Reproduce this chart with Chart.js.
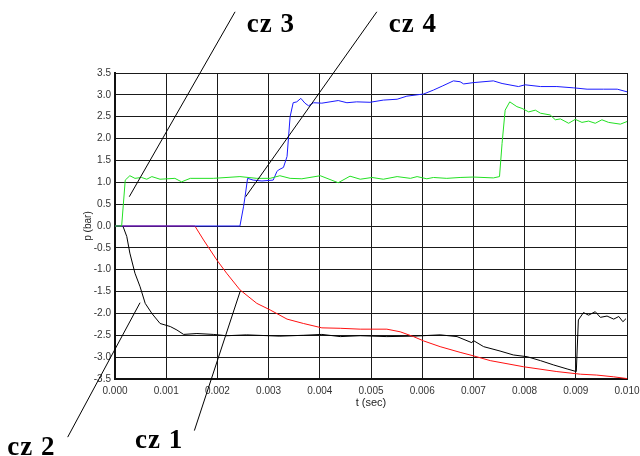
<!DOCTYPE html>
<html>
<head>
<meta charset="utf-8">
<script src="https://cdn.jsdelivr.net/npm/chart.js@4/dist/chart.umd.min.js"></script>
<style>
  html, body { margin: 0; padding: 0; background: #fff; }
  #wrap { width: 640px; height: 456px; }
</style>
</head>
<body>
<div id="wrap"><canvas id="c" width="640" height="456"></canvas></div>
<script>
// czujniki ciśnienia, t w sekundach, p w barach
const czas1 = [0, 0.00153, 0.00156, 0.00173, 0.00199, 0.00218, 0.00244, 0.00277, 0.00303, 0.00336, 0.00368, 0.00404, 0.00440, 0.00479, 0.00531, 0.00557, 0.00583, 0.00603, 0.00635, 0.00674, 0.00700, 0.00733, 0.00798, 0.00863, 0.00909, 0.00941, 0.00974, 0.01000]
const cz1 = [0, 0, 0, -0.32, -0.78, -1.08, -1.46, -1.77, -1.92, -2.13, -2.23, -2.33, -2.34, -2.36, -2.36, -2.42, -2.53, -2.63, -2.76, -2.89, -2.97, -3.08, -3.22, -3.33, -3.39, -3.41, -3.45, -3.49]

const czas2 = [0, 0.00013, 0.00016, 0.00023, 0.00029, 0.00039, 0.00049, 0.00059, 0.00072, 0.00088, 0.00108, 0.00121, 0.00134, 0.00160, 0.00192, 0.00218, 0.00257, 0.00322, 0.00368, 0.00404, 0.00440, 0.00479, 0.00531, 0.00583, 0.00635, 0.00668, 0.00697, 0.00700, 0.00720, 0.00752, 0.00778, 0.00805, 0.00831, 0.00857, 0.00883, 0.00901, 0.00905, 0.00915, 0.00925, 0.00938, 0.00948, 0.00961, 0.00974, 0.00984, 0.00992, 0.00998]
const cz2 = [0, 0, -0.02, -0.24, -0.62, -1.08, -1.39, -1.77, -2.00, -2.23, -2.30, -2.38, -2.48, -2.46, -2.48, -2.51, -2.49, -2.52, -2.50, -2.48, -2.53, -2.51, -2.53, -2.52, -2.49, -2.53, -2.67, -2.62, -2.76, -2.86, -2.95, -2.99, -3.08, -3.18, -3.27, -3.33, -2.15, -1.98, -2.04, -1.96, -2.09, -2.06, -2.13, -2.07, -2.19, -2.12]

const czas3 = [0, 0.00013, 0.00020, 0.00029, 0.00039, 0.00052, 0.00062, 0.00072, 0.00088, 0.00117, 0.00130, 0.00147, 0.00192, 0.00244, 0.00277, 0.00303, 0.00322, 0.00342, 0.00365, 0.00401, 0.00436, 0.00459, 0.00479, 0.00502, 0.00524, 0.00551, 0.00577, 0.00590, 0.00609, 0.00622, 0.00648, 0.00674, 0.00700, 0.00739, 0.00751, 0.00756, 0.00762, 0.00771, 0.00785, 0.00795, 0.00808, 0.00821, 0.00831, 0.00850, 0.00860, 0.00870, 0.00886, 0.00899, 0.00912, 0.00925, 0.00938, 0.00951, 0.00964, 0.00987, 0.01000]
const cz3 = [0, 0, 1.05, 1.15, 1.09, 1.11, 1.07, 1.13, 1.07, 1.09, 1.01, 1.09, 1.09, 1.13, 1.09, 1.09, 1.15, 1.09, 1.08, 1.15, 0.99, 1.14, 1.07, 1.11, 1.07, 1.13, 1.09, 1.13, 1.08, 1.11, 1.09, 1.11, 1.12, 1.10, 1.13, 1.89, 2.65, 2.84, 2.73, 2.69, 2.61, 2.65, 2.58, 2.54, 2.43, 2.45, 2.35, 2.44, 2.37, 2.40, 2.35, 2.43, 2.37, 2.33, 2.39]

const czas4 = [0, 0.00244, 0.00251, 0.00254, 0.00259, 0.00270, 0.00287, 0.00309, 0.00316, 0.00319, 0.00329, 0.00336, 0.00342, 0.00348, 0.00355, 0.00363, 0.00371, 0.00378, 0.00388, 0.00404, 0.00420, 0.00436, 0.00453, 0.00472, 0.00498, 0.00524, 0.00551, 0.00570, 0.00603, 0.00622, 0.00639, 0.00661, 0.00674, 0.00681, 0.00700, 0.00739, 0.00756, 0.00788, 0.00801, 0.00831, 0.00863, 0.00896, 0.00922, 0.00954, 0.00981, 0.01000]
const cz4 = [0, 0, 0.44, 0.67, 1.09, 1.05, 1.03, 1.05, 1.24, 1.28, 1.34, 1.59, 2.50, 2.82, 2.84, 2.92, 2.81, 2.75, 2.82, 2.81, 2.84, 2.87, 2.82, 2.84, 2.83, 2.88, 2.90, 2.97, 3.02, 3.11, 3.20, 3.32, 3.30, 3.25, 3.28, 3.32, 3.26, 3.19, 3.23, 3.19, 3.19, 3.16, 3.13, 3.13, 3.13, 3.07]

// opisy czujników: odcinek od krzywej do napisu (w jednostkach osi)
const opisy = ['cz 1', 'cz 2', 'cz 3', 'cz 4']
const opisOdT = [0.002443, 0.000489, 0.000279, 0.002552]
const opisOdP = [-1.50, -1.755, 0.67, 0.67]
const opisDoT = [0.00155, -0.000924, 0.002345, 0.005114]
const opisDoP = [-4.68, -4.83, 4.90, 4.90]
const napisT = [0.000393, -0.002105, 0.002573, 0.005348]
const napisP = [-5.08, -5.24, 4.44, 4.44]

const xTicks = [0, 0.001, 0.002, 0.003, 0.004, 0.005, 0.006, 0.007, 0.008, 0.009, 0.010]

function punkty(t, p){
    const out = []
    for(let i=0; i<t.length; i++){
        out.push({x: t[i], y: p[i]})
    }
    return out
}

const opisyPlugin = {
    id: 'opisy',
    afterDatasetsDraw(chart){
        const ctx = chart.ctx
        const xs = chart.scales.x
        const ys = chart.scales.y
        ctx.save()
        ctx.strokeStyle = '#000'
        ctx.lineWidth = 1
        for(let i=0; i<opisy.length; i++){
            ctx.beginPath()
            ctx.moveTo(xs.getPixelForValue(opisOdT[i]), ys.getPixelForValue(opisOdP[i]))
            ctx.lineTo(xs.getPixelForValue(opisDoT[i]), ys.getPixelForValue(opisDoP[i]))
            ctx.stroke()
        }
        ctx.fillStyle = '#000'
        ctx.font = 'bold 27px "Liberation Serif", "Times New Roman", serif'
        ctx.letterSpacing = '1px'
        ctx.textAlign = 'left'
        ctx.textBaseline = 'alphabetic'
        for(let i=0; i<opisy.length; i++){
            ctx.fillText(opisy[i], xs.getPixelForValue(napisT[i]), ys.getPixelForValue(napisP[i]))
        }
        ctx.restore()
    }
}

const linia = (label, data, color) => ({
    label: label,
    data: data,
    borderColor: color,
    borderWidth: 1,
    pointRadius: 0,
    tension: 0,
    fill: false
})

new Chart(document.getElementById('c'), {
    type: 'line',
    data: {
        datasets: [
            linia('cz 3', punkty(czas3, cz3), '#22e022'),
            linia('cz 4', punkty(czas4, cz4), '#1a1aff'),
            linia('cz 1', punkty(czas1, cz1), '#ff1010'),
            linia('cz 2', punkty(czas2, cz2), '#000000')
        ]
    },
    options: {
        responsive: false,
        animation: false,
        layout: { padding: { top: 73, right: 13, left: 80, bottom: 0 } },
        plugins: {
            legend: { display: false },
            tooltip: { enabled: false }
        },
        scales: {
            x: {
                type: 'linear',
                min: 0,
                max: 0.010,
                afterBuildTicks: s => { s.ticks = xTicks.map(v => ({value: v})) },
                afterFit: s => {
                    s.height = 77
                    s.paddingLeft = 0
                    s.paddingRight = 0
                },
                ticks: {
                    callback: v => Number(v).toFixed(3),
                    color: '#333',
                    font: { family: 'Arial, "Liberation Sans", sans-serif', size: 10 },
                    padding: 6,
                    maxRotation: 0
                },
                grid: { color: '#1a1a1a', lineWidth: 1, drawTicks: false },
                border: { color: '#111', width: 2 },
                title: {
                    display: true,
                    text: 't (sec)',
                    color: '#222',
                    font: { family: 'Arial, "Liberation Sans", sans-serif', size: 11 },
                    padding: { top: 0, bottom: 46 }
                }
            },
            y: {
                min: -3.5,
                max: 3.5,
                afterFit: s => {
                    s.width = 35
                    s.paddingTop = 0
                    s.paddingBottom = 0
                },
                ticks: {
                    stepSize: 0.5,
                    callback: v => Number(v).toFixed(1),
                    color: '#333',
                    font: { family: 'Arial, "Liberation Sans", sans-serif', size: 10 },
                    padding: 4
                },
                grid: { color: '#1a1a1a', lineWidth: 1, drawTicks: false },
                border: { color: '#111', width: 2 },
                title: {
                    display: true,
                    text: 'p (bar)',
                    color: '#222',
                    font: { family: 'Arial, "Liberation Sans", sans-serif', size: 10 },
                    padding: { top: 2, bottom: 0 }
                }
            }
        }
    },
    plugins: [opisyPlugin]
})
</script>
</body>
</html>
